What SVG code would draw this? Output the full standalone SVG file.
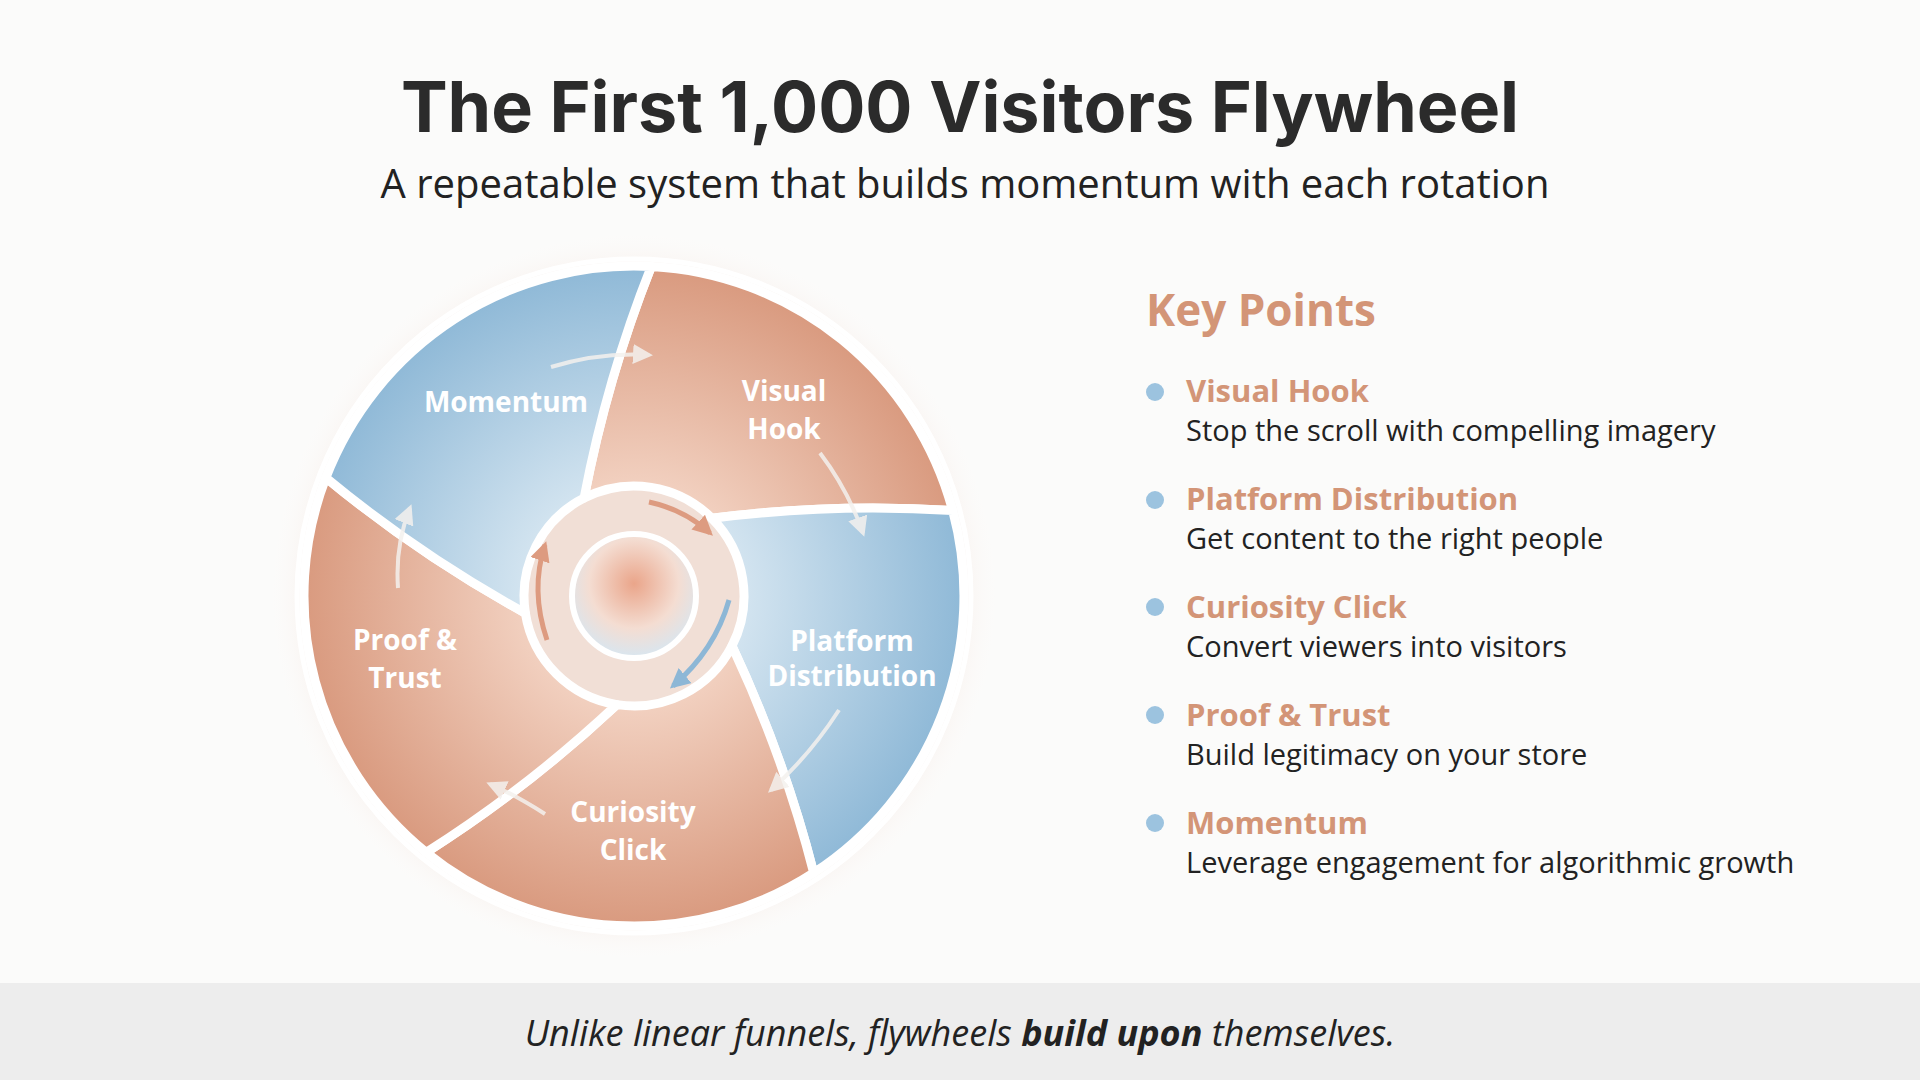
<svg xmlns="http://www.w3.org/2000/svg" width="1920" height="1080" viewBox="0 0 1920 1080">
<defs>
<radialGradient id="gs" cx="634" cy="596" r="330" gradientUnits="userSpaceOnUse"><stop offset="0.3" stop-color="#f3d3c3"/><stop offset="1" stop-color="#d99a7f"/></radialGradient>
<radialGradient id="gb" cx="634" cy="596" r="330" gradientUnits="userSpaceOnUse"><stop offset="0.3" stop-color="#d6e6f1"/><stop offset="1" stop-color="#8fb9d7"/></radialGradient>
<radialGradient id="hub" cx="0.5" cy="0.4" r="0.6"><stop offset="0" stop-color="#eaa58a"/><stop offset="0.6" stop-color="#f4ddd2"/><stop offset="1" stop-color="#d8e6f0"/></radialGradient>
<radialGradient id="glow" cx="634" cy="596" r="370" gradientUnits="userSpaceOnUse"><stop offset="0.8" stop-color="#f1dfd6"/><stop offset="1" stop-color="#ffffff" stop-opacity="0"/></radialGradient>
<marker id="aw" viewBox="0 0 10 10" refX="8" refY="5" markerWidth="5" markerHeight="5" orient="auto"><path d="M0,0L10,5L0,10z" fill="#f4f1ee"/></marker>
<marker id="as" viewBox="0 0 10 10" refX="8" refY="5" markerWidth="4" markerHeight="4" orient="auto"><path d="M0,0L10,5L0,10z" fill="#dd9b80"/></marker>
<marker id="ab" viewBox="0 0 10 10" refX="8" refY="5" markerWidth="4" markerHeight="4" orient="auto"><path d="M0,0L10,5L0,10z" fill="#8db7d6"/></marker>
</defs>
<style>
.seg{stroke:#fff;stroke-width:9;stroke-linejoin:round}
.lbl{font-family:"Open Sans","Liberation Sans",sans-serif;font-weight:700;font-size:28px;fill:#fff;text-anchor:middle}
.ar{fill:none;stroke:#f4f1ee;stroke-width:4;marker-end:url(#aw);opacity:.85}
.kt{font-family:"Open Sans","Liberation Sans",sans-serif;font-weight:700;font-size:31px;fill:#d39577}
.kd{font-family:"Open Sans","Liberation Sans",sans-serif;font-size:29px;fill:#222}
</style>
<rect width="1920" height="1080" fill="#fbfbfa"/>
<text x="960" y="132" text-anchor="middle" font-family="Inter,'Liberation Sans',sans-serif" font-weight="700" font-size="70" fill="#2b2b2b">The First 1,000 Visitors Flywheel</text>
<text x="965" y="198" text-anchor="middle" font-family="'Open Sans','Liberation Sans',sans-serif" font-size="40" fill="#222">A repeatable system that builds momentum with each rotation</text>

<circle cx="634" cy="596" r="370" fill="url(#glow)"/>
<g id="visual-hook"><path class="seg" fill="url(#gs)" d="M651.3,266.5 A330,330 0 0 1 952.7,510.6 Q833.4,503 711.8,518.2 A110,110 0 0 0 584.1,498 Q607.2,377.6 651.3,266.5Z"/><text class="lbl" x="784" y="401">Visual</text><text class="lbl" x="784" y="439">Hook</text></g>
<g id="platform-distribution"><path class="seg" fill="url(#gb)" d="M952.7,510.6 A330,330 0 0 1 813.7,872.8 Q784,756.9 732,645.9 A110,110 0 0 0 711.8,518.2 Q833.4,503 952.7,510.6Z"/><text class="lbl" x="852" y="651">Platform</text><text class="lbl" x="852" y="686">Distribution</text></g>
<g id="curiosity-click"><path class="seg" fill="url(#gs)" d="M813.7,872.8 A330,330 0 0 1 426.3,852.4 Q527.3,788.4 616.8,704.6 A110,110 0 0 0 732,645.9 Q784,756.9 813.7,872.8Z"/><text class="lbl" x="633" y="822">Curiosity</text><text class="lbl" x="633" y="860">Click</text></g>
<g id="proof-trust"><path class="seg" fill="url(#gs)" d="M426.3,852.4 A330,330 0 0 1 325.9,477.7 Q418,554 525.4,613.2 A110,110 0 0 0 616.8,704.6 Q527.3,788.4 426.3,852.4Z"/><text class="lbl" x="405" y="650">Proof &amp;</text><text class="lbl" x="405" y="688">Trust</text></g>
<g id="momentum"><path class="seg" fill="url(#gb)" d="M325.9,477.7 A330,330 0 0 1 651.3,266.5 Q607.2,377.6 584.1,498 A110,110 0 0 0 525.4,613.2 Q418,554 325.9,477.7Z"/><text class="lbl" x="506" y="412">Momentum</text></g>
<circle cx="634" cy="596" r="337" fill="none" stroke="#fff" stroke-width="5"/>
<g id="hub"><circle cx="634" cy="596" r="62" fill="url(#hub)" stroke="#fff" stroke-width="6"/></g>
<g id="connectors">
<path class="ar" d="M551,367 Q600,352 649,355"/>
<path class="ar" d="M820,453 Q848,490 863,533"/>
<path class="ar" d="M839,710 Q810,755 771,790"/>
<path class="ar" d="M545,814 Q515,795 490,784"/>
<path class="ar" d="M398,588 Q395,545 410,508"/>
<path d="M649,502 Q685,510 710,533" fill="none" stroke="#dd9b80" stroke-width="5" marker-end="url(#as)"/>
<path d="M729,600 Q715,650 673,686" fill="none" stroke="#8db7d6" stroke-width="5" marker-end="url(#ab)"/>
<path d="M547,640 Q530,590 545,545" fill="none" stroke="#dd9b80" stroke-width="5" marker-end="url(#as)"/>
</g>

<g id="key-points">
<text x="1146" y="326" font-family="'Open Sans','Liberation Sans',sans-serif" font-weight="700" font-size="44" fill="#d39577">Key Points</text>
<circle cx="1155" cy="392" r="9" fill="#9cc3df"/><text class="kt" x="1186" y="402">Visual Hook</text><text class="kd" x="1186" y="441">Stop the scroll with compelling imagery</text>
<circle cx="1155" cy="500" r="9" fill="#9cc3df"/><text class="kt" x="1186" y="510">Platform Distribution</text><text class="kd" x="1186" y="549">Get content to the right people</text>
<circle cx="1155" cy="607" r="9" fill="#9cc3df"/><text class="kt" x="1186" y="618">Curiosity Click</text><text class="kd" x="1186" y="657">Convert viewers into visitors</text>
<circle cx="1155" cy="715" r="9" fill="#9cc3df"/><text class="kt" x="1186" y="726">Proof &amp; Trust</text><text class="kd" x="1186" y="765">Build legitimacy on your store</text>
<circle cx="1155" cy="823" r="9" fill="#9cc3df"/><text class="kt" x="1186" y="834">Momentum</text><text class="kd" x="1186" y="873">Leverage engagement for algorithmic growth</text>
</g>
<rect x="0" y="983" width="1920" height="97" fill="#ededed"/>
<text x="960" y="1046" text-anchor="middle" font-family="'Open Sans','Liberation Sans',sans-serif" font-style="italic" font-size="36" fill="#222">Unlike linear funnels, flywheels <tspan font-weight="700">build upon</tspan> themselves.</text>
</svg>
